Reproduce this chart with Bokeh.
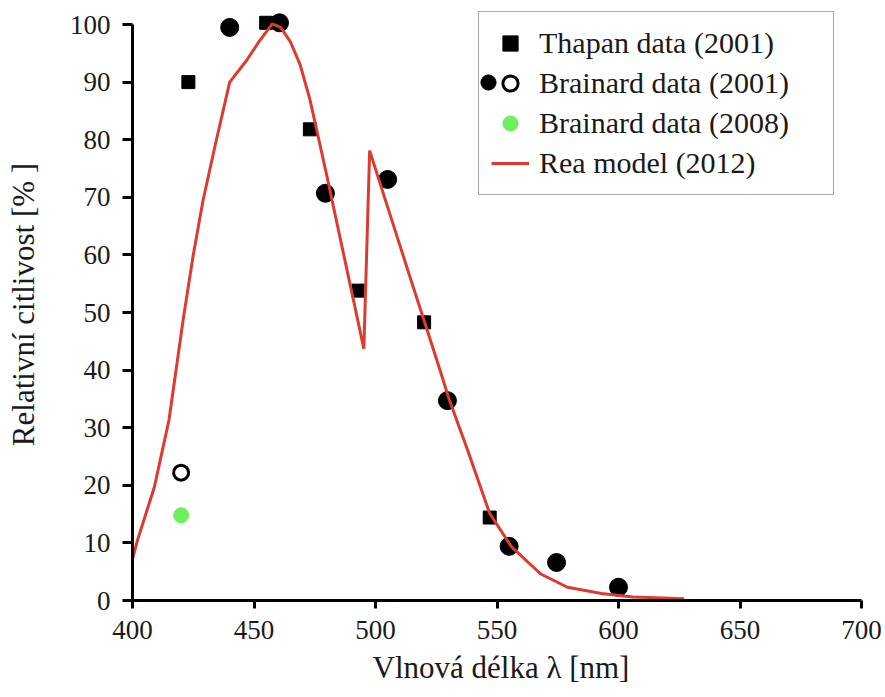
from bokeh.plotting import figure
from bokeh.models import Range1d, FixedTicker, Legend, LegendItem, Title
from bokeh.core.properties import value
from bokeh.embed import file_html
from bokeh.resources import INLINE

# ---- data ----
thapan_wl = [423, 455, 473, 493, 520, 547]
thapan_val = [90.0, 100.3, 81.8, 53.8, 48.3, 14.4]

brainard01_wl = [440, 460.5, 479.4, 505, 529.6, 555, 574.5, 600]
brainard01_val = [99.5, 100.3, 70.7, 73.1, 34.7, 9.4, 6.6, 2.3]

brainard01_open_wl = [420]
brainard01_open_val = [22.2]

brainard08_wl = [420]
brainard08_val = [14.8]

rea_wl = [400, 402, 409, 412, 415, 421, 425, 429, 434, 440, 447, 452, 457.5,
          461, 465, 469, 473, 480, 485, 490, 495.2, 497.6, 505, 510, 515, 520,
          527, 530, 538, 547, 556, 568, 579, 593, 606, 627]
rea_val = [7.2, 10.4, 19.7, 25.5, 31.3, 49.2, 60.0, 69.4, 79.0, 90.0, 93.8, 97.0, 100.1,
           99.5, 97.0, 93.0, 87.0, 73.7, 63.8, 54.0, 43.7, 78.1, 68.3, 61.7, 55.1, 48.6,
           39.4, 35.3, 26.0, 15.1, 9.3, 4.6, 2.3, 1.2, 0.6, 0.3]

x_ticks = [400, 450, 500, 550, 600, 650, 700]
y_ticks = [0, 10, 20, 30, 40, 50, 60, 70, 80, 90, 100]

legend_labels = ["Thapan data (2001)", "Brainard data (2001)",
                 "Brainard data (2008)", "Rea model (2012)"]
x_title = "Vlnová délka λ [nm]"
y_title = "Relativní citlivost [% ]"

FONT = "Liberation Serif"
RED = "#dc3b2e"
GREEN = "#6cf05c"
TXT = "#1a1a1a"

p = figure(width=882, height=697, x_range=Range1d(400, 700), y_range=Range1d(0, 102.78),
           output_backend="svg", toolbar_location=None,
           min_border_left=132, min_border_right=21, min_border_top=8, min_border_bottom=97)
p.outline_line_color = None
p.xgrid.visible = False
p.ygrid.visible = False
p.background_fill_color = "white"

for ax, ticks in ((p.xaxis, x_ticks), (p.yaxis, y_ticks)):
    ax.ticker = FixedTicker(ticks=ticks)
    ax.axis_line_width = 3
    ax.axis_line_color = "black"
    ax.major_tick_line_width = 3
    ax.major_tick_line_color = "black"
    ax.major_tick_in = 0
    ax.minor_tick_line_color = None
    ax.major_label_text_font = FONT
    ax.major_label_text_font_size = "27px"
    ax.major_label_text_color = TXT

p.xaxis.major_tick_out = 8
p.xaxis.major_label_standoff = 12
p.yaxis.major_tick_out = 10
p.yaxis.major_label_standoff = 12
p.yaxis.bounds = (0, 100)
p.xaxis.bounds = (400, 700)

p.yaxis.axis_label = y_title
p.yaxis.axis_label_standoff = 26
p.yaxis.axis_label_text_font = FONT
p.yaxis.axis_label_text_font_size = "31px"
p.yaxis.axis_label_text_font_style = "normal"
p.yaxis.axis_label_text_color = TXT

r_thapan = p.scatter(thapan_wl, thapan_val, marker="square", size=13,
                     fill_color="black", line_color="black")
r_b01 = p.scatter(brainard01_wl, brainard01_val, marker="circle", size=18,
                  fill_color="black", line_color="black")
r_b01o = p.scatter(brainard01_open_wl, brainard01_open_val, marker="circle", size=15,
                   fill_color="white", line_color="black", line_width=3)
r_b08 = p.scatter(brainard08_wl, brainard08_val, marker="circle", size=15,
                  fill_color=GREEN, line_color=GREEN)
r_rea = p.line(rea_wl, rea_val, line_color=RED, line_width=3)

legend = Legend(items=[
    LegendItem(label=value(legend_labels[0]), renderers=[r_thapan]),
    LegendItem(label=value(legend_labels[1]), renderers=[r_b01o]),
    LegendItem(label=value(legend_labels[2]), renderers=[r_b08]),
    LegendItem(label=value(legend_labels[3]), renderers=[r_rea]),
], location=(346, 405))
legend.glyph_width = 38
legend.glyph_height = 38
legend.spacing = 2
legend.padding = 12
legend.margin = 0
legend.label_standoff = 10
legend.label_width = 282
legend.label_text_font = FONT
legend.label_text_font_size = "30px"
legend.label_text_color = TXT
legend.border_line_color = "#555555"
legend.border_line_width = 1.5
legend.background_fill_color = "white"
legend.background_fill_alpha = 1
p.add_layout(legend)

legend2 = Legend(items=[LegendItem(label=value(" "), renderers=[r_b01])],
                 location=(337, 499))
legend2.glyph_width = 38
legend2.glyph_height = 38
legend2.padding = 0
legend2.margin = 0
legend2.label_width = 1
legend2.label_standoff = 0
legend2.border_line_alpha = 0
legend2.background_fill_alpha = 0
legend2.label_text_font_size = "10px"
p.add_layout(legend2)

p.add_layout(Title(text=x_title, align="left", offset=240, text_font=FONT,
                   text_font_size="31px", text_font_style="normal", text_color=TXT,
                   standoff=12), "below")

open("out.html", "w").write(file_html(p, INLINE))
